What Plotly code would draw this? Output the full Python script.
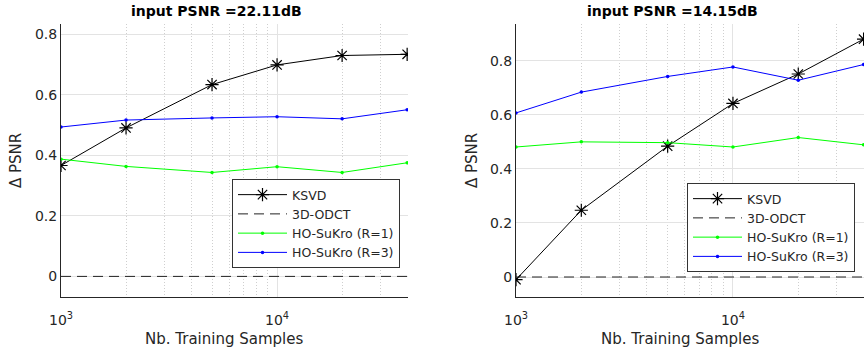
import plotly.graph_objects as go

samples = [1000, 2000, 5000, 10000, 20000, 40000]

# input PSNR = 22.11 dB
ksvd_a = [0.366, 0.490, 0.633, 0.698, 0.729, 0.733]
odct_a = [0, 0, 0, 0, 0, 0]
r1_a = [0.387, 0.363, 0.343, 0.362, 0.343, 0.375]
r3_a = [0.493, 0.516, 0.523, 0.527, 0.520, 0.550]

# input PSNR = 14.15 dB
ksvd_b = [-0.010, 0.247, 0.484, 0.642, 0.751, 0.880]
odct_b = [0, 0, 0, 0, 0, 0]
r1_b = [0.481, 0.500, 0.497, 0.481, 0.516, 0.489]
r3_b = [0.607, 0.684, 0.742, 0.777, 0.728, 0.786]

titles = ["input PSNR =22.11dB", "input PSNR =14.15dB"]
names = ["KSVD", "3D-ODCT", "HO-SuKro (R=1)", "HO-SuKro (R=3)"]
x_title = "Nb. Training Samples"
y_title = "Δ PSNR"
x_ticks = [1000, 10000]
x_ticktext = ["10<sup>3</sup>", "10<sup>4</sup>"]
y_ticks = [0, 0.2, 0.4, 0.6, 0.8]
y_ticktext = ["0", "0.2", "0.4", "0.6", "0.8"]

FONT = "DejaVu Sans"
TXT = "#262626"
W, H = 864, 354
MT, MB = 24, 57

fig = go.Figure()

sets = [(ksvd_a, odct_a, r1_a, r3_a), (ksvd_b, odct_b, r1_b, r3_b)]
for i, (k, o, r1, r3) in enumerate(sets):
    ax = "" if i == 0 else "2"
    leg = "legend" if i == 0 else "legend2"
    common = dict(xaxis="x" + ax, yaxis="y" + ax, legend=leg, mode="lines+markers")
    fig.add_trace(go.Scatter(x=samples, y=k, name=names[0],
                             line=dict(color="black", width=1),
                             marker=dict(symbol="asterisk", size=11,
                                         line=dict(color="black", width=1.2)),
                             **common))
    fig.add_trace(go.Scatter(x=samples, y=o, name=names[1],
                             line=dict(color="#222222", width=1, dash="10px,6px"),
                             xaxis="x" + ax, yaxis="y" + ax, legend=leg, mode="lines"))
    fig.add_trace(go.Scatter(x=samples, y=r1, name=names[2],
                             line=dict(color="#00ff00", width=1),
                             marker=dict(symbol="circle", size=3.5, color="#00ff00"),
                             **common))
    fig.add_trace(go.Scatter(x=samples, y=r3, name=names[3],
                             line=dict(color="#0000ff", width=1),
                             marker=dict(symbol="circle", size=3.5, color="#0000ff"),
                             **common))

xcommon = dict(type="log", tickvals=x_ticks, ticktext=x_ticktext,
               showgrid=True, gridcolor="#e3e3e3", gridwidth=1,
               showline=True, linecolor=TXT, linewidth=1, mirror=False,
               ticks="", zeroline=False,
               ticklabelstandoff=10,
               tickfont=dict(family=FONT, size=14, color=TXT),
               minor=dict(dtick="D1", showgrid=True, gridcolor="#cfcfcf",
                          griddash="1px,2px", gridwidth=1, ticks=""),
               automargin=False)
ycommon = dict(tickvals=y_ticks, ticktext=y_ticktext,
               showgrid=True, gridcolor="#e3e3e3", gridwidth=1,
               showline=True, linecolor=TXT, linewidth=1, mirror=False,
               ticks="", zeroline=False,
               tickfont=dict(family=FONT, size=14, color=TXT),
               automargin=False)

ph = H - MT - MB
def py(yp):
    return (H - MB - yp) / ph

legcommon = dict(xanchor="right", yanchor="top",
                 bgcolor="white", bordercolor="#333333", borderwidth=1,
                 font=dict(family=FONT, size=12.5, color=TXT),
                 itemwidth=49, tracegroupgap=0)

fig.update_layout(
    width=W, height=H,
    margin=dict(l=0, r=0, t=MT, b=MB),
    paper_bgcolor="white", plot_bgcolor="white",
    template="none",
    showlegend=True,
    hovermode=False,
    xaxis=dict(domain=[61 / W, 408 / W], range=[3, 4.606], anchor="y", **xcommon),
    yaxis=dict(domain=[0, 1], range=[-0.068, 0.833], anchor="x", **ycommon),
    xaxis2=dict(domain=[516 / W, 1.0], range=[3, 4.604], anchor="y2", **xcommon),
    yaxis2=dict(domain=[0, 1], range=[-0.074, 0.936], anchor="x2", **ycommon),
    legend=dict(x=400 / W, y=py(179), **legcommon),
    legend2=dict(x=855 / W, y=py(183), **legcommon),
)

def ann(text, x, y, size, color, bold=False, angle=0):
    return dict(text=("<b>" + text + "</b>") if bold else text,
                x=x / W, y=py(y), xref="paper", yref="paper",
                xanchor="center", yanchor="middle", textangle=angle,
                showarrow=False, font=dict(family=FONT, size=size, color=color))

annotations = [
    ann(titles[0], 217, 11, 14, "black", bold=True),
    ann(titles[1], 672, 11, 14, "black", bold=True),
    ann(y_title, 16, 161, 15, TXT, angle=-90),
    ann(y_title, 472, 161, 15, TXT, angle=-90),
    ann(x_title, 224, 339, 15, TXT),
    ann(x_title, 680, 339, 15, TXT),
]
fig.update_layout(annotations=annotations)

fig.write_html("out.html", config={"displayModeBar": False, "staticPlot": True},
               post_script="document.body.style.margin='0px';")
